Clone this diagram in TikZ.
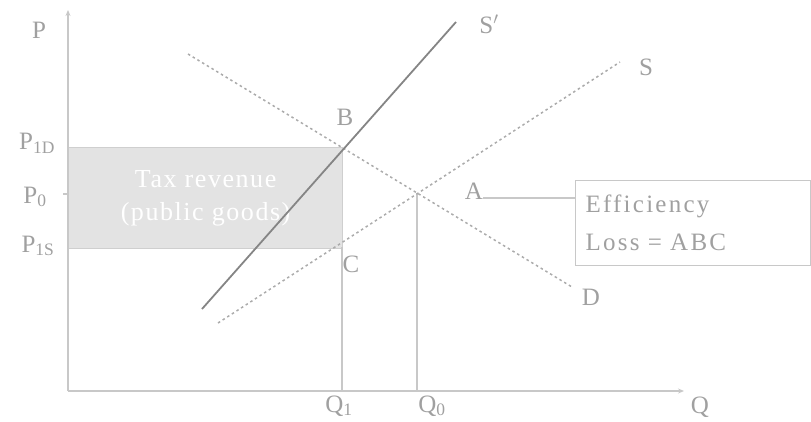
\documentclass[tikz,border=0pt]{standalone}
\usepackage{fontspec}
\setmainfont{Liberation Serif}
\usetikzlibrary{arrows.meta}
\definecolor{axisgray}{HTML}{C8C8C8}
\definecolor{labelgray}{HTML}{A0A0A0}
\definecolor{curvegray}{HTML}{858585}
\definecolor{dotgray}{HTML}{ABABAB}
\definecolor{boxfill}{HTML}{E3E3E3}
\definecolor{boxedge}{HTML}{CFCFCF}
\begin{document}
\begin{tikzpicture}[x=1pt,y=-1pt,
  lbl/.style={text=labelgray, font=\fontsize{25}{27}\selectfont, inner sep=0pt},
  axisline/.style={draw=axisgray, line width=1.2pt},
  guide/.style={draw=axisgray, line width=1.2pt},
  supply/.style={draw=curvegray, line width=1.8pt},
  dotcurve/.style={draw=dotgray, line width=1.5pt, dash pattern=on 2.5pt off 3pt}]
\useasboundingbox (0,0) rectangle (811,421);
% points
\coordinate (O) at (68,391);
\coordinate (Ytop) at (68,10);
\coordinate (Xend) at (684,391);
\coordinate (B) at (342,148);
\coordinate (C) at (342,247);
\coordinate (A) at (417,194);
\coordinate (Q1pt) at (342,391);
\coordinate (Q0pt) at (417,391);
\coordinate (Sps) at (202,309);
\coordinate (Spe) at (456,22);
\coordinate (Ss) at (218,323);
\coordinate (Se) at (620,62);
\coordinate (Ds) at (188,54);
\coordinate (De) at (572,287);
\coordinate (Aline) at (0,198);
% tax revenue box
\node (tax) [fill=boxfill, draw=boxedge, line width=1.2pt, minimum width=274pt, minimum height=101pt,
  anchor=north west, text=white, align=center, inner sep=0pt,
  font=\fontsize{26}{33}\selectfont\addfontfeatures{LetterSpace=6}] at (68,147)
  {Tax revenue\\(public goods)};
% axes
\draw[axisline, -{Stealth[length=6pt,width=5pt]}] (O) -- (Xend);
\draw[axisline, -{Stealth[length=6pt,width=5pt]}] (O) -- (Ytop);
\draw[axisline] (63,194) -- (O |- A);
% guides
\draw[guide] (C) -- (Q1pt);
\draw[guide] (A) -- (Q0pt);
% curves
\draw[dotcurve] (Ds) -- (De);
\draw[dotcurve] (Ss) -- (Se);
\draw[supply] (Sps) -- (Spe);
% labels
\node[lbl] (Plab) at (39,30) {P};
\node[lbl] (P1D) at (37,143) {P\textsubscript{1D}};
\node[lbl] (P0) at (35,197) {P\textsubscript{0}};
\node[lbl] (P1S) at (38,246) {P\textsubscript{1S}};
\node[lbl] (Blab) at (345,117) {B};
\node[lbl] (Clab) at (351,264) {C};
\node[lbl] (Alab) at (474,191) {A};
\node[lbl] (Splab) at (489,24) {S$'$};
\node[lbl] (Slab) at (646,67) {S};
\node[lbl] (Dlab) at (591,297) {D};
\node[lbl] (Q1lab) at (339,406) {Q\textsubscript{1}};
\node[lbl] (Q0lab) at (432,406) {Q\textsubscript{0}};
\node[lbl] (Qlab) at (700,407) {Q};
% efficiency box
\node (eff) [draw=axisgray, line width=1pt, minimum width=235pt, minimum height=85pt,
  anchor=north west, inner sep=0pt, text=labelgray, align=left, text width=215pt,
  font=\fontsize{25}{38}\selectfont\addfontfeatures{LetterSpace=9}] at (575,180)
  {Efficiency\\Loss = ABC};
\draw[guide] (Alab.east |- Aline) -- (eff.west |- Aline);
\end{tikzpicture}
\end{document}
